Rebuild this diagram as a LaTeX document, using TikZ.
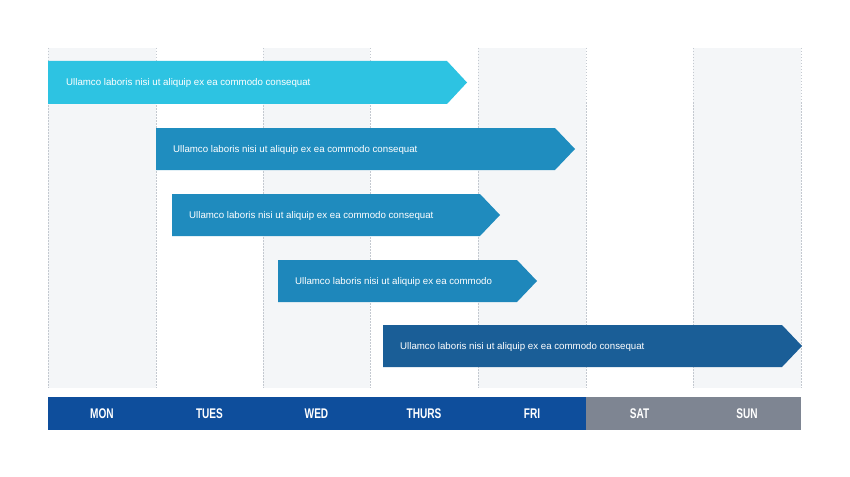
\documentclass[tikz,border=0pt]{standalone}
\usepackage{fontspec}
\setmainfont{Liberation Sans}
\usepackage{graphicx}
\definecolor{shade}{HTML}{F4F6F8}
\definecolor{gridline}{HTML}{C4C9D0}
\definecolor{barA}{HTML}{2DC3E2}
\definecolor{barB}{HTML}{1F8DBF}
\definecolor{barC}{HTML}{1F8BBE}
\definecolor{barD}{HTML}{1E87BB}
\definecolor{barE}{HTML}{1A5E97}
\definecolor{weekday}{HTML}{0E4E9C}
\definecolor{weekend}{HTML}{7E8592}
\tikzset{
  colshade/.style={fill=shade, draw=none},
  gridln/.style={draw=gridline, dashed, line width=0.6pt, dash pattern=on 1.5pt off 1.5pt},
  bartext/.style={text=white, font=\fontsize{9.7}{12}\selectfont, anchor=west, inner sep=0pt},
  daylabel/.style={text=white, font=\fontsize{14}{16}\selectfont\bfseries, inner sep=0pt},
}
\newcommand{\dayname}[1]{\scalebox{0.72}[1]{#1}}
\begin{document}
\begin{tikzpicture}[x=1pt,y=-1pt]
\useasboundingbox (0,0) rectangle (850,476);
\fill[white] (0,0) rectangle (850,476);
% shaded columns
\foreach \a/\b in {48/156, 263/370, 478/586, 693/801}
  \path[colshade] (\a,48) rectangle (\b,388);
% dashed grid lines
\foreach \x in {48,156,263,370,478,586,693,801}
  \draw[gridln] (\x,48) -- (\x,388);
% bars
\fill[barA] (48,61) -- (447,61) -- (467,82.5) -- (447,104) -- (48,104) -- cycle;
\node[bartext] (t1) at (66,83) {Ullamco laboris nisi ut aliquip ex ea commodo consequat};
\fill[barB] (156,128) -- (555,128) -- (575,149) -- (555,170) -- (156,170) -- cycle;
\node[bartext] (t2) at (173,149.5) {Ullamco laboris nisi ut aliquip ex ea commodo consequat};
\fill[barC] (172,194) -- (480,194) -- (500,215) -- (480,236) -- (172,236) -- cycle;
\node[bartext] (t3) at (189,215.5) {Ullamco laboris nisi ut aliquip ex ea commodo consequat};
\fill[barD] (278,260) -- (517,260) -- (537,281) -- (517,302) -- (278,302) -- cycle;
\node[bartext] (t4) at (295,281.5) {Ullamco laboris nisi ut aliquip ex ea commodo};
\fill[barE] (383,325) -- (782,325) -- (802,346) -- (782,367) -- (383,367) -- cycle;
\node[bartext] (t5) at (400,346.5) {Ullamco laboris nisi ut aliquip ex ea commodo consequat};
% day bar
\fill[weekday] (48,397) rectangle (586,430);
\fill[weekend] (586,397) rectangle (801,430);
\node[daylabel] (mon) at (102,413.5) {\dayname{MON}};
\node[daylabel] (tue) at (209.5,413.5) {\dayname{TUES}};
\node[daylabel] (wed) at (316.5,413.5) {\dayname{WED}};
\node[daylabel] (thu) at (424,413.5) {\dayname{THURS}};
\node[daylabel] (fri) at (532,413.5) {\dayname{FRI}};
\node[daylabel] (sat) at (639.5,413.5) {\dayname{SAT}};
\node[daylabel] (sun) at (747,413.5) {\dayname{SUN}};
\end{tikzpicture}
\end{document}
